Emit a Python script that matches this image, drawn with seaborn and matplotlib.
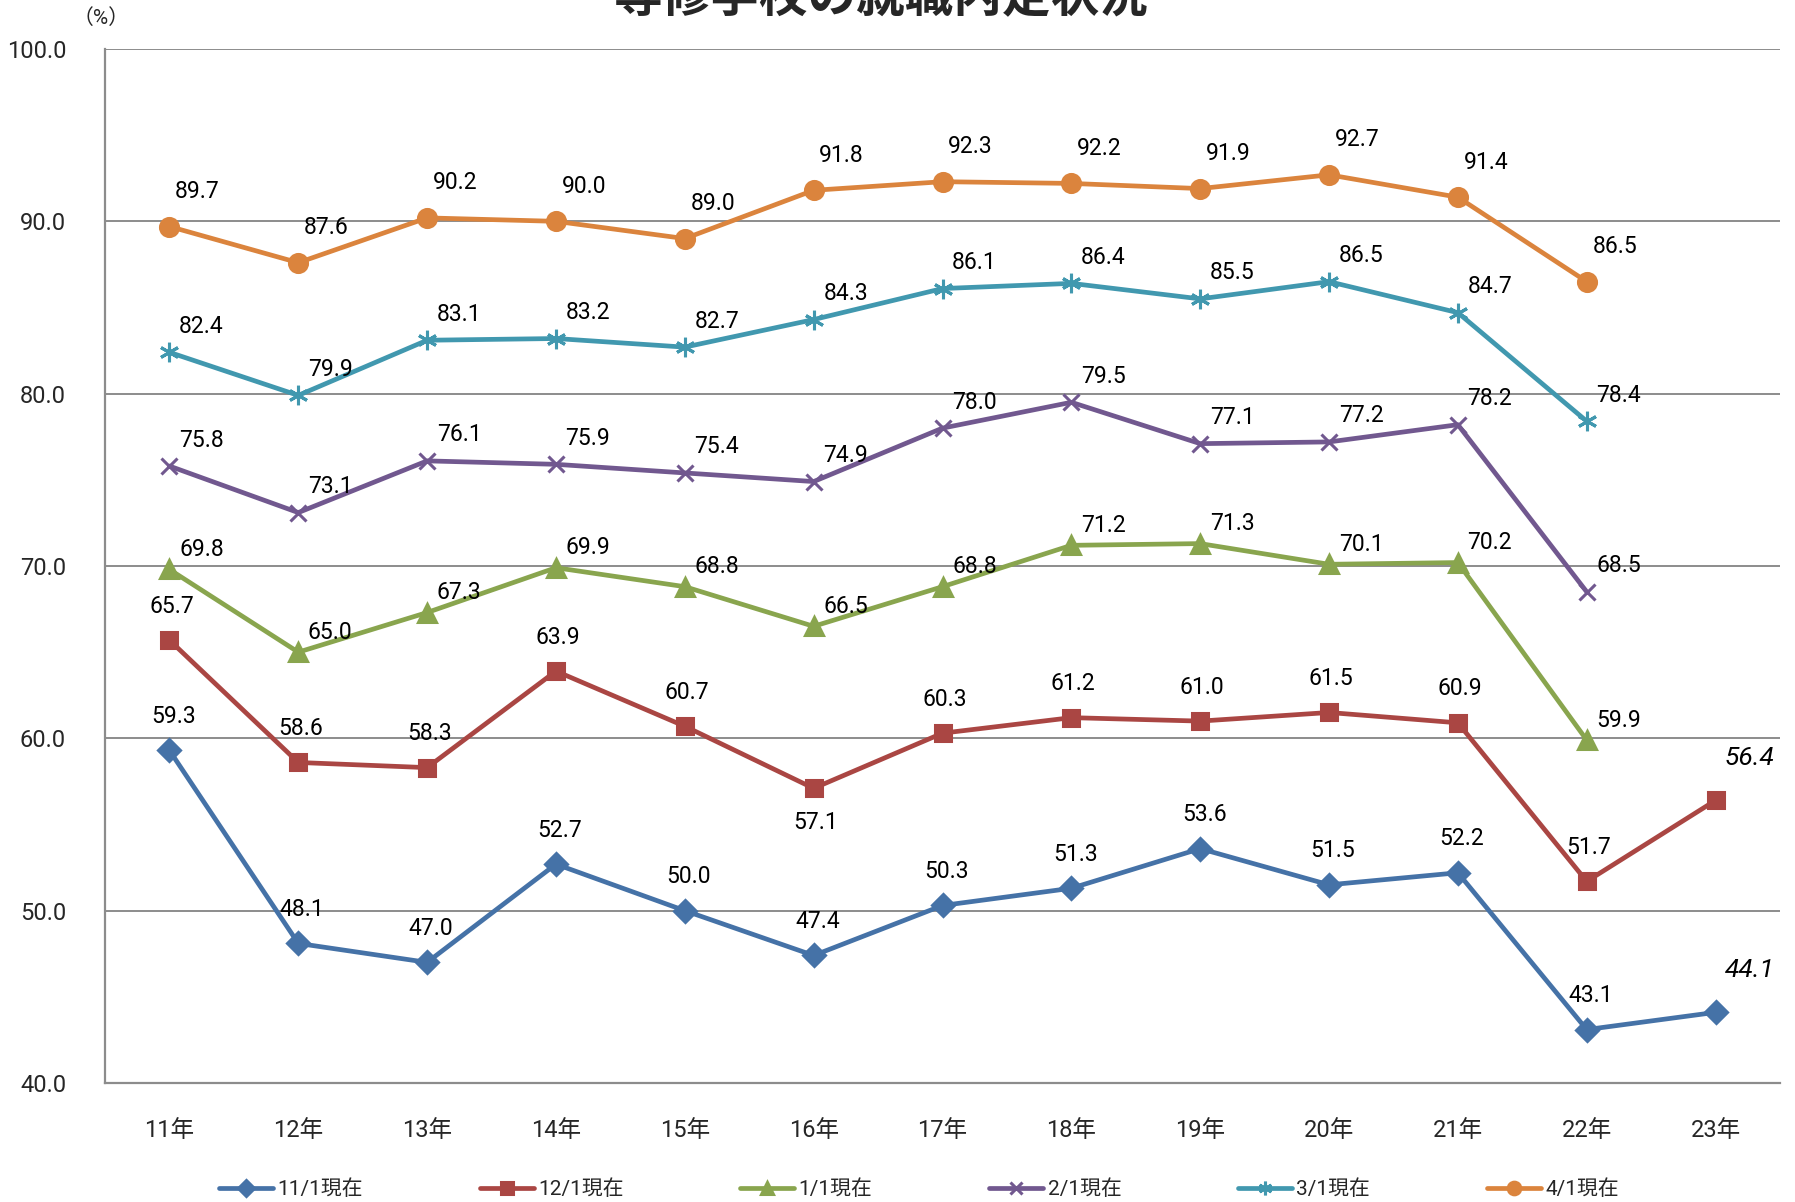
import numpy as np
import pandas as pd
import matplotlib
matplotlib.use("Agg")
import matplotlib.pyplot as plt
import seaborn as sns

years = ["11年", "12年", "13年", "14年", "15年", "16年", "17年",
         "18年", "19年", "20年", "21年", "22年", "23年"]
series_names = ["11/1現在", "12/1現在", "1/1現在", "2/1現在", "3/1現在", "4/1現在"]

nov = [59.3, 48.1, 47.0, 52.7, 50.0, 47.4, 50.3, 51.3, 53.6, 51.5, 52.2, 43.1, 44.1]
dec = [65.7, 58.6, 58.3, 63.9, 60.7, 57.1, 60.3, 61.2, 61.0, 61.5, 60.9, 51.7, 56.4]
jan = [69.8, 65.0, 67.3, 69.9, 68.8, 66.5, 68.8, 71.2, 71.3, 70.1, 70.2, 59.9, None]
feb = [75.8, 73.1, 76.1, 75.9, 75.4, 74.9, 78.0, 79.5, 77.1, 77.2, 78.2, 68.5, None]
mar = [82.4, 79.9, 83.1, 83.2, 82.7, 84.3, 86.1, 86.4, 85.5, 86.5, 84.7, 78.4, None]
apr = [89.7, 87.6, 90.2, 90.0, 89.0, 91.8, 92.3, 92.2, 91.9, 92.7, 91.4, 86.5, None]

colors = ["#4572A7", "#AA4643", "#89A54E", "#71588F", "#4198AF", "#DB843D"]
markers = ["D", "s", "^", "x", (6, 2, 0), "o"]
marker_sizes = [11, 12, 13, 12, 14, 13]

sns.set_theme(style="white")
plt.rcParams["font.family"] = ["Roboto", "Noto Sans CJK JP", "DejaVu Sans"]

all_vals = [nov, dec, jan, feb, mar, apr]

fig = plt.figure(figsize=(17.95, 12.02), dpi=100)
ax = fig.add_axes([105 / 1795, 1 - 1083 / 1202, (1780 - 105) / 1795, (1083 - 49) / 1202])

for name, vals, c, m, ms in zip(series_names, all_vals, colors, markers, marker_sizes):
    d = pd.DataFrame({"pos": range(len(years)), "rate": vals}).dropna()
    sns.lineplot(data=d, x="pos", y="rate", color=c, marker=m, markersize=ms,
                 markeredgecolor=c, markerfacecolor=c, markeredgewidth=2.2,
                 linewidth=3.4, label=name, ax=ax, legend=False)

ax.set_xlim(-0.5, len(years) - 0.5)
ax.set_ylim(40, 100)
ax.set_yticks(np.arange(40, 101, 10))
ax.set_yticklabels([f"{v:.1f}" for v in np.arange(40, 101, 10)], fontsize=17)
ax.set_xticks(range(len(years)))
ax.set_xticklabels(years, fontsize=17)
ax.tick_params(axis="y", pad=28, length=0)
ax.tick_params(axis="x", pad=26, length=0)
ax.set_xlabel("")
ax.set_ylabel("")

ax.yaxis.grid(True, color="#8c8c8c", linewidth=1.4)
ax.set_axisbelow(True)
for side in ["top", "right"]:
    ax.spines[side].set_visible(False)
for side in ["left", "bottom"]:
    ax.spines[side].set_color("#8c8c8c")
    ax.spines[side].set_linewidth(1.6)

# value labels: offset from each point, in pixels
offsets = {
    "11/1現在": (4, 34),
    "12/1現在": (2, 34),
    "1/1現在": (32, 20),
    "2/1現在": (32, 26),
    "3/1現在": (32, 26),
    "4/1現在": (28, 35),
}
for name, vals in zip(series_names, all_vals):
    dx, dy = offsets[name]
    for i, v in enumerate(vals):
        if v is None:
            continue
        ox, oy = dx, dy
        style = "normal"
        size = 16.5
        if name == "12/1現在" and years[i] == "16年":
            oy = -34
        if years[i] == "23年":
            ox, oy = 34, 42
            style = "italic"
            size = 19
        ax.annotate(f"{v:.1f}", (i, v), xytext=(ox, oy), textcoords="offset pixels",
                    ha="center", va="center", fontsize=size, fontstyle=style,
                    color="black")

# legend along the bottom
handles = [l for l in ax.get_lines() if l.get_label() in series_names]
leg = ax.legend(handles, [h.get_label() for h in handles], loc="upper center",
                bbox_to_anchor=(0.486, -0.075), ncol=6, frameon=False,
                fontsize=15, handlelength=2.6, columnspacing=5.6,
                handletextpad=0.2, markerscale=0.7)

fig.text(88 / 1568, 1 - 18 / 1202, "（%）", fontsize=15,
         ha="center", va="center")
fig.text(0.491, 0.990, "専修学校の就職内定状況", fontsize=35,
         fontweight="bold", ha="center", va="baseline")

fig.savefig("out.png", dpi=100)
